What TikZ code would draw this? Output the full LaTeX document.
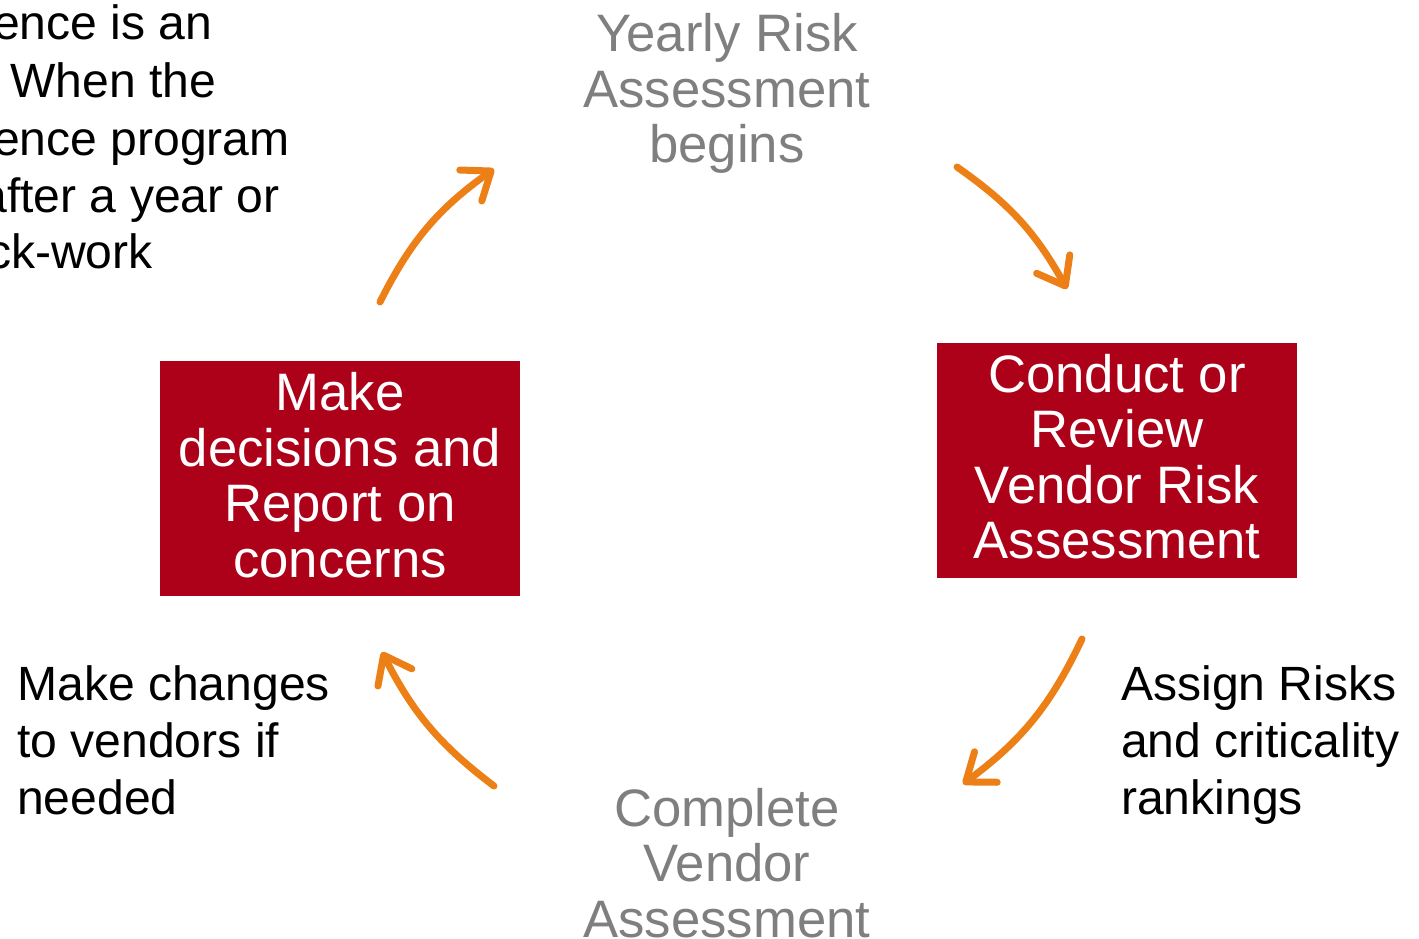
\documentclass[tikz,border=0pt]{standalone}
\usepackage{fontspec}
\setmainfont{Liberation Sans}
\usetikzlibrary{arrows.meta}
\definecolor{boxred}{HTML}{AD0019}
\definecolor{flow}{HTML}{EC7F16}
\definecolor{soft}{HTML}{7F7F7F}

\begin{document}
\begin{tikzpicture}[x=1pt,y=1pt,
  big/.style={font=\fontsize{52.7}{55.5}\selectfont, align=center, inner sep=0pt},
  note/.style={font=\fontsize{48.1}{57}\selectfont, align=left, inner sep=0pt},
  stepbox/.style={big, fill=boxred, text=white, minimum width=360pt, minimum height=235pt},
  phase/.style={big, text=soft},
  cycle/.style={draw=flow, line width=7pt, line cap=round,
    -{Straight Barb[length=25pt,width=38pt,line cap=round,line join=round]}}
]
\useasboundingbox (0,0) rectangle (1419,-938);

% lines of a paragraph running in from the left edge
\node[note, anchor=base east] (lead1) at (212.5,-39) {ence is an};
\node[note, anchor=base east] (lead2) at (216.5,-97) {When the};
\node[note, anchor=base east] (lead3) at (290,-155) {ence program};
\node[note, anchor=base east] (lead4) at (280,-212) {after a year or};
\node[note, anchor=base east] (lead5) at (153,-268) {ck-work};

% the four stages of the cycle
\node[phase, anchor=north] (yearly) at (727,-13.5) {Yearly Risk\\Assessment\\begins};
\node[stepbox] (review) at (1117,-460) {Conduct or\\Review\\Vendor Risk\\Assessment\vphantom{,}};
\node[phase, anchor=north] (complete) at (727,-788) {Complete\\Vendor\\Assessment};
\node[stepbox] (decide) at (340,-478.5) {Make\\decisions and\\Report on\\concerns\vphantom{,}};

% side notes
\node[note, anchor=north west] (assign) at (1121,-665.5) {Assign Risks\\and criticality\\rankings};
\node[note, anchor=north west] (changes) at (17,-665.5) {Make changes\\to vendors if\\needed};

% arrow end points on the cycle
\coordinate (c1s) at (380,-302);
\coordinate (c1e) at (494,-169);
\coordinate (c2s) at (957,-167);
\coordinate (c2e) at (1067,-289);
\coordinate (c3s) at (1082,-639);
\coordinate (c3e) at (963,-784);
\coordinate (c4s) at (494,-786);
\coordinate (c4e) at (382,-652);

\draw[cycle] (c1s) to[bend left=14] (c1e);
\draw[cycle] (c2s) to[bend left=13] (c2e);
\draw[cycle] (c3s) to[bend left=14] (c3e);
\draw[cycle] (c4s) to[bend left=13] (c4e);
\end{tikzpicture}
\end{document}
